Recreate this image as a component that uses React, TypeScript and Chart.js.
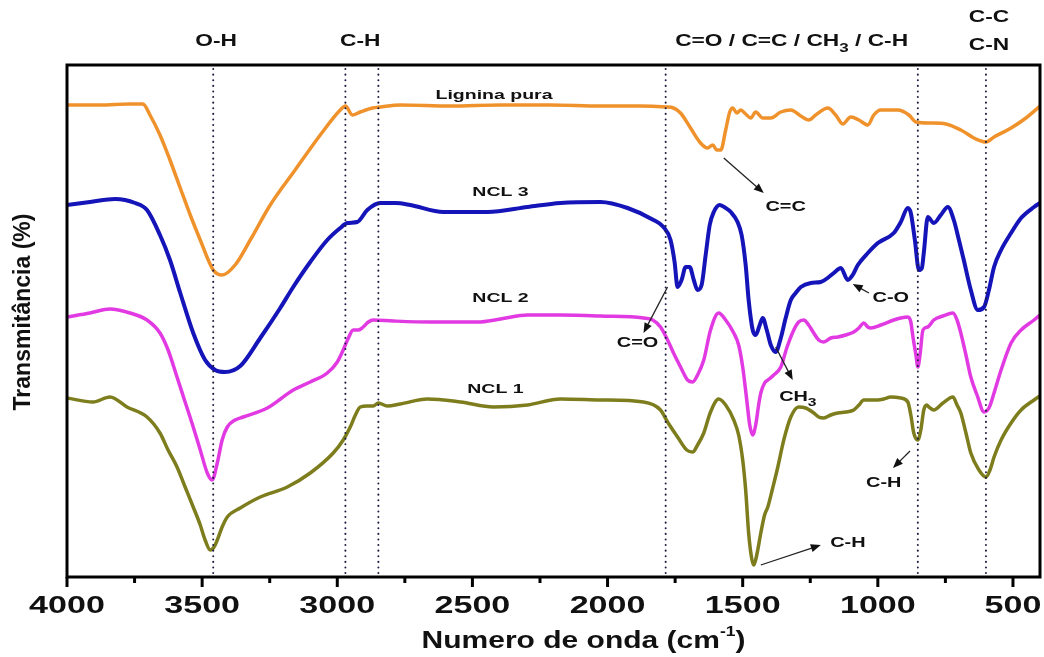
import React, { useEffect, useRef } from 'react';
import { Chart, registerables } from 'chart.js';

Chart.register(...registerables);

// ---------- data (wavenumber, cm-1) and offset transmittance values ----------
const ligninaWave = [
  4000, 3878, 3767, 3719, 3693, 3656, 3619, 3581, 3544, 3507,
  3459, 3426, 3378, 3322, 3248, 3156, 3063, 2989, 2970, 2944,
  2915, 2870, 2841, 2767, 2581, 2396, 2211, 2026, 1878, 1785,
  1756, 1730, 1693, 1656, 1630, 1611, 1596, 1581, 1563, 1548,
  1537, 1522, 1507, 1489, 1470, 1452, 1426, 1396, 1359, 1322,
  1285, 1256, 1230, 1185, 1156, 1130, 1100, 1070, 1037, 1015,
  989, 926, 885, 859, 804, 748, 693, 637, 600, 570,
  507, 452, 400,
];
const ligninaT = [
  480, 480, 481, 481, 470, 450, 425, 397, 370, 345,
  315, 310, 320, 345, 380, 415, 450, 475, 479, 470,
  473, 477, 478, 480, 479, 480, 480, 479, 479, 478,
  477, 472, 457, 442, 437, 440, 435, 435, 455, 473,
  477, 472, 475, 471, 467, 473, 467, 467, 473, 475,
  469, 465, 470, 477, 470, 461, 468, 465, 460, 470,
  475, 475, 470, 463, 462, 461, 455, 446, 443, 448,
  457, 467, 479,
];

const ncl3Wave = [
  4000, 3915, 3822, 3748, 3704, 3656, 3619, 3581, 3533, 3489,
  3452, 3415, 3359, 3285, 3211, 3163, 3100, 3037, 2989, 2963,
  2926, 2889, 2841, 2785, 2730, 2607, 2444, 2296, 2174, 2026,
  1926, 1830, 1793, 1767, 1752, 1741, 1726, 1711, 1696, 1681,
  1667, 1652, 1637, 1622, 1607, 1585, 1563, 1544, 1519, 1504,
  1489, 1478, 1463, 1452, 1437, 1426, 1411, 1396, 1378, 1359,
  1341, 1322, 1304, 1285, 1248, 1211, 1181, 1163, 1137, 1111,
  1093, 1074, 1037, 1000, 941, 915, 889, 878, 863, 848,
  837, 830, 815, 793, 767, 741, 719, 700, 682, 656,
  630, 607, 589, 570, 544, 507, 470, 422, 400,
];
const ncl3T = [
  380, 383, 386, 382, 375, 350, 325, 292, 252, 225,
  215, 213, 219, 247, 277, 298, 323, 345, 357, 362,
  363, 375, 382, 382, 380, 373, 373, 378, 382, 383,
  377, 365, 358, 345, 323, 298, 305, 318, 318, 305,
  295, 300, 330, 360, 373, 380, 377, 373, 363, 350,
  320, 285, 255, 250, 260, 267, 255, 240, 233, 247,
  267, 285, 292, 298, 302, 303, 308, 312, 317, 305,
  310, 320, 332, 342, 352, 363, 377, 372, 345, 315,
  317, 332, 368, 362, 370, 378, 365, 345, 325, 295,
  275, 278, 295, 318, 335, 352, 367, 378, 382,
];

const ncl2Wave = [
  4000, 3915, 3841, 3767, 3704, 3656, 3626, 3593, 3563, 3533,
  3507, 3481, 3463, 3444, 3426, 3407, 3378, 3348, 3259, 3163,
  3100, 3037, 3000, 2978, 2959, 2941, 2922, 2904, 2885, 2867,
  2793, 2656, 2481, 2396, 2296, 2174, 2026, 1867, 1833, 1804,
  1778, 1756, 1730, 1704, 1685, 1667, 1644, 1619, 1589, 1563,
  1533, 1515, 1500, 1485, 1474, 1463, 1452, 1441, 1433, 1419,
  1407, 1385, 1359, 1337, 1311, 1293, 1274, 1256, 1237, 1219,
  1200, 1174, 1148, 1119, 1089, 1070, 1052, 1037, 1026, 989,
  941, 915, 889, 878, 870, 859, 852, 844, 833, 815,
  793, 759, 722, 707, 693, 674, 656, 633, 607, 589,
  570, 544, 507, 470, 422, 400,
];
const ncl2T = [
  268, 272, 276, 272, 265, 252, 235, 208, 183, 158,
  135, 112, 105, 122, 145, 158, 165, 168, 177, 195,
  203, 212, 223, 235, 247, 255, 255, 258, 263, 265,
  264, 263, 263, 266, 270, 270, 269, 267, 265, 258,
  245, 232, 218, 205, 203, 210, 225, 255, 272, 265,
  252, 240, 218, 185, 160, 150, 160, 180, 192, 202,
  205, 210, 218, 237, 255, 263, 265, 260, 252, 245,
  243, 247, 248, 250, 253, 257, 262, 258, 257, 260,
  265, 267, 268, 263, 248, 230, 218, 230, 255, 258,
  265, 269, 272, 265, 252, 230, 208, 190, 173, 177,
  192, 215, 242, 255, 265, 270,
];

const ncl1Wave = [
  4000, 3904, 3841, 3778, 3704, 3656, 3626, 3593, 3563, 3533,
  3507, 3489, 3470, 3456, 3444, 3426, 3407, 3359, 3285, 3185,
  3100, 3015, 2978, 2952, 2933, 2915, 2889, 2867, 2848, 2815,
  2767, 2667, 2544, 2422, 2296, 2174, 2026, 1867, 1804, 1778,
  1741, 1707, 1685, 1667, 1644, 1619, 1589, 1563, 1533, 1515,
  1500, 1489, 1478, 1467, 1459, 1448, 1433, 1419, 1407, 1389,
  1370, 1348, 1322, 1293, 1267, 1237, 1219, 1200, 1174, 1148,
  1119, 1089, 1070, 1052, 1026, 1000, 978, 952, 915, 889,
  878, 867, 852, 841, 830, 819, 811, 793, 759, 722,
  707, 693, 674, 656, 626, 600, 585, 570, 544, 507,
  470, 422, 400,
];
const ncl1T = [
  187, 183, 188, 178, 168, 152, 135, 118, 98, 78,
  60, 45, 35, 38, 45, 58, 68, 77, 88, 98,
  112, 132, 145, 158, 170, 178, 179, 179, 182, 179,
  181, 186, 183, 178, 180, 186, 185, 183, 175, 163,
  148, 135, 133, 140, 152, 173, 186, 180, 165, 150,
  125, 95, 52, 27, 20, 30, 52, 70, 78, 97,
  118, 145, 168, 178, 177, 172, 168, 167, 170, 172,
  173, 175, 180, 185, 185, 185, 186, 188, 187, 183,
  170, 152, 145, 155, 175, 180, 178, 175, 182, 188,
  180, 172, 152, 132, 115, 108, 115, 128, 145, 162,
  175, 185, 189,
];

const seriesNames = ['Lignina pura', 'NCL 3', 'NCL 2', 'NCL 1'];
const seriesColors = ['#F0922C', '#1414B8', '#E23AE2', '#7D7D1E'];
const seriesLabelWave = [2420, 2396, 2396, 2415];
const seriesLabelT = [490, 393, 287, 196];

const xMajorTicks = [4000, 3500, 3000, 2500, 2000, 1500, 1000, 500];
const xMinorTicks = [3750, 3250, 2750, 2250, 1750, 1250, 750];
const bandLines = [3459, 2970, 2848, 1785, 852, 600];

// peak annotations: text, text position, arrow tail, arrow head (wavenumber, T)
const peakText = ['C=C', 'C-O', 'C=O', 'CH3', 'C-H', 'C-H'];
const peakTextWave = [1341, 952, 1889, 1296, 978, 1111];
const peakTextT = [378, 287, 242, 188, 102, 42];
const arrowTailWave = [1570, 1033, 1778, 1378, 881, 1433];
const arrowTailT = [427, 292, 298, 238, 134, 20];
const arrowHeadWave = [1422, 1093, 1867, 1315, 944, 1211];
const arrowHeadT = [392, 301, 252, 205, 117, 40];

const FONT = '"Liberation Sans", Arial, Helvetica, sans-serif';

type Seg = { t: string; k?: number; dy?: number };

function drawRich(ctx: CanvasRenderingContext2D, segs: Seg[], cx: number, cy: number, size: number, sx: number) {
  ctx.save();
  ctx.translate(cx, cy);
  ctx.scale(sx, 1);
  ctx.textBaseline = 'middle';
  ctx.textAlign = 'left';
  let total = 0;
  const widths = segs.map((s) => {
    ctx.font = `bold ${Math.round(size * (s.k ?? 1))}px ${FONT}`;
    const w = ctx.measureText(s.t).width;
    total += w;
    return w;
  });
  let x = -total / 2;
  segs.forEach((s, i) => {
    ctx.font = `bold ${Math.round(size * (s.k ?? 1))}px ${FONT}`;
    ctx.fillText(s.t, x, (s.dy ?? 0) * size);
    x += widths[i];
  });
  ctx.restore();
}

function labelSegs(t: string): Seg[] {
  if (t.includes('CH3')) {
    const parts = t.split('CH3');
    return [{ t: parts[0] + 'CH' }, { t: '3', k: 0.75, dy: 0.4 }, { t: parts[1] }];
  }
  return [{ t }];
}

function arrow(ctx: CanvasRenderingContext2D, x1: number, y1: number, x2: number, y2: number) {
  const ang = Math.atan2(y2 - y1, x2 - x1);
  const hl = 10;
  const hw = 4;
  ctx.save();
  ctx.strokeStyle = '#222';
  ctx.fillStyle = '#111';
  ctx.lineWidth = 1.3;
  ctx.beginPath();
  ctx.moveTo(x1, y1);
  ctx.lineTo(x2 - Math.cos(ang) * hl * 0.8, y2 - Math.sin(ang) * hl * 0.8);
  ctx.stroke();
  ctx.beginPath();
  ctx.moveTo(x2, y2);
  ctx.lineTo(x2 - Math.cos(ang) * hl + Math.sin(ang) * hw, y2 - Math.sin(ang) * hl - Math.cos(ang) * hw);
  ctx.lineTo(x2 - Math.cos(ang) * hl - Math.sin(ang) * hw, y2 - Math.sin(ang) * hl + Math.cos(ang) * hw);
  ctx.closePath();
  ctx.fill();
  ctx.restore();
}

const decorPlugin = {
  id: 'decor',
  afterDatasetsDraw(chart: any) {
    const { ctx, chartArea: a, scales } = chart;
    const x = scales.x;
    const y = scales.y;
    ctx.save();

    // dotted band lines
    ctx.strokeStyle = '#1E1E40';
    ctx.lineWidth = 2;
    ctx.lineCap = 'round';
    ctx.setLineDash([0.1, 5.5]);
    bandLines.forEach((w) => {
      const px = x.getPixelForValue(w);
      ctx.beginPath();
      ctx.moveTo(px, a.top + 4);
      ctx.lineTo(px, a.bottom - 2);
      ctx.stroke();
    });
    ctx.setLineDash([]);
    ctx.lineCap = 'butt';

    // frame
    ctx.strokeStyle = '#000';
    ctx.lineWidth = 3;
    ctx.strokeRect(a.left, a.top, a.right - a.left, a.bottom - a.top);

    // ticks
    ctx.lineWidth = 3;
    xMajorTicks.forEach((w) => {
      const px = x.getPixelForValue(w);
      ctx.beginPath();
      ctx.moveTo(px, a.bottom);
      ctx.lineTo(px, a.bottom + 10);
      ctx.stroke();
    });
    xMinorTicks.forEach((w) => {
      const px = x.getPixelForValue(w);
      ctx.beginPath();
      ctx.moveTo(px, a.bottom);
      ctx.lineTo(px, a.bottom + 6);
      ctx.stroke();
    });

    ctx.fillStyle = '#111';
    // tick labels
    xMajorTicks.forEach((w) => {
      drawRich(ctx, [{ t: String(w) }], x.getPixelForValue(w), a.bottom + 29, 24, 1.42);
    });

    // axis titles
    drawRich(
      ctx,
      [{ t: 'Numero de onda (cm' }, { t: '-1', k: 0.6, dy: -0.35 }, { t: ')' }],
      (a.left + a.right) / 2 + 30,
      a.bottom + 64,
      24,
      1.25
    );
    ctx.save();
    ctx.translate(24, 312);
    ctx.rotate(-Math.PI / 2);
    drawRich(ctx, [{ t: 'Transmitância (%)' }], 0, 0, 23, 1);
    ctx.restore();

    // band labels above the plot
    drawRich(ctx, [{ t: 'O-H' }], x.getPixelForValue(3448), 42, 16, 1.42);
    drawRich(ctx, [{ t: 'C-H' }], x.getPixelForValue(2915), 42, 16, 1.42);
    drawRich(
      ctx,
      [{ t: 'C=O / C=C / CH' }, { t: '3', k: 0.75, dy: 0.4 }, { t: ' / C-H' }],
      x.getPixelForValue(1319),
      42,
      16,
      1.42
    );
    drawRich(ctx, [{ t: 'C-C' }], x.getPixelForValue(589), 18, 16, 1.42);
    drawRich(ctx, [{ t: 'C-N' }], x.getPixelForValue(589), 46, 16, 1.42);

    // series labels
    seriesNames.forEach((n, i) => {
      drawRich(ctx, [{ t: n }], x.getPixelForValue(seriesLabelWave[i]), y.getPixelForValue(seriesLabelT[i]), 13, 1.5);
    });

    // peak annotations with arrows
    peakText.forEach((t, i) => {
      drawRich(ctx, labelSegs(t), x.getPixelForValue(peakTextWave[i]), y.getPixelForValue(peakTextT[i]), 14, 1.42);
      arrow(
        ctx,
        x.getPixelForValue(arrowTailWave[i]),
        y.getPixelForValue(arrowTailT[i]),
        x.getPixelForValue(arrowHeadWave[i]),
        y.getPixelForValue(arrowHeadT[i])
      );
    });

    ctx.restore();
  },
};

const seriesWaves = [ligninaWave, ncl3Wave, ncl2Wave, ncl1Wave];
const seriesValues = [ligninaT, ncl3T, ncl2T, ncl1T];

export default function App() {
  const ref = useRef<HTMLCanvasElement | null>(null);

  useEffect(() => {
    document.body.style.margin = '0';
    const canvas = ref.current;
    if (!canvas) return;
    const chart = new Chart(canvas, {
      type: 'line',
      data: {
        datasets: seriesNames.map((name, i) => ({
          label: name,
          data: seriesWaves[i].map((w, j) => ({ x: w, y: seriesValues[i][j] })),
          borderColor: seriesColors[i],
          backgroundColor: seriesColors[i],
          borderWidth: i === 1 ? 4 : 3.5,
          pointRadius: 0,
          cubicInterpolationMode: 'monotone' as const,
          borderJoinStyle: 'round' as const,
          borderCapStyle: 'round' as const,
          fill: false,
        })),
      },
      options: {
        responsive: false,
        animation: false,
        devicePixelRatio: 1,
        layout: { padding: { left: 67, top: 65, right: 4, bottom: 80 } },
        plugins: {
          legend: { display: false },
          tooltip: { enabled: false },
          title: { display: false },
        },
        scales: {
          x: { type: 'linear', reverse: true, min: 400, max: 4000, display: false },
          y: { type: 'linear', min: 8, max: 520, display: false },
        },
      },
      plugins: [decorPlugin],
    });
    return () => chart.destroy();
  }, []);

  return (
    <div style={{ width: 1044, height: 657, background: '#fff' }}>
      <canvas ref={ref} width={1044} height={657} style={{ display: 'block' }} />
    </div>
  );
}
